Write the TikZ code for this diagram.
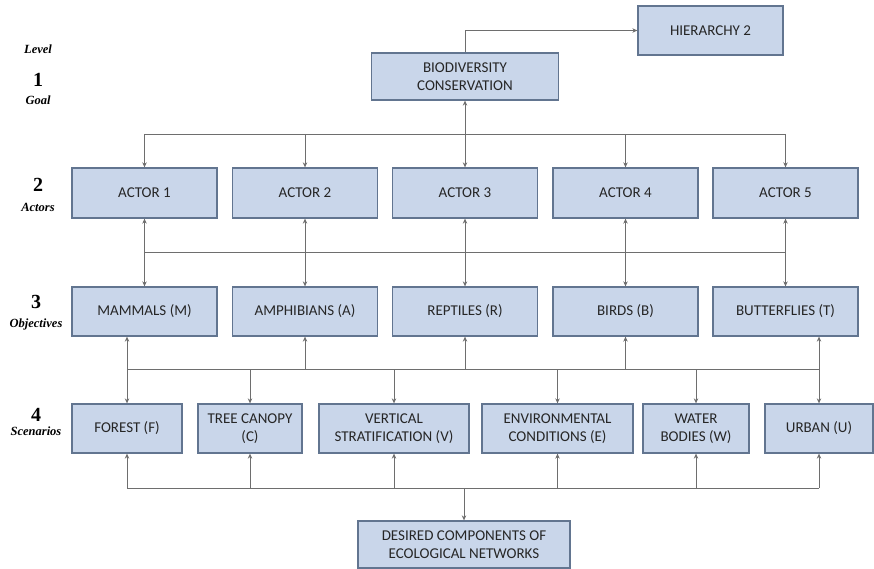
\documentclass[tikz,border=0pt]{standalone}
\usepackage{fontspec}
\setmainfont{Carlito}
\newfontfamily\lvlfont{Liberation Serif}
\usetikzlibrary{arrows.meta}
\definecolor{boxfill}{HTML}{C9D6EA}
\definecolor{boxline}{HTML}{627590}
\definecolor{wire}{HTML}{6E6E6E}
\definecolor{boxtext}{HTML}{262626}
\begin{document}
\begin{tikzpicture}[x=1pt,y=-1pt,
  box/.style={draw=boxline, line width=1.3pt, fill=boxfill, text=boxtext,
    inner sep=0pt, align=center, anchor=center,
    font=\fontsize{15}{18.5}\selectfont},
  wireline/.style={draw=wire, line width=0.9pt},
  arr/.style={wireline, -{Stealth[length=5pt,width=4.5pt]}},
  arrtwo/.style={wireline, {Stealth[length=5pt,width=4.5pt]}-{Stealth[length=5pt,width=4.5pt]}},
  lvl/.style={font=\lvlfont\fontsize{12.5}{14}\selectfont\bfseries\itshape, text=black},
  lvlnum/.style={font=\lvlfont\fontsize{20}{21}\selectfont\bfseries, text=black}]
\path[use as bounding box] (0,0) rectangle (874,569);

% level captions on the left
\node[lvl] (lvlhead) at (38,49) {Level};
\node[lvlnum] (n1) at (38,80) {1};
\node[lvl] (t1) at (38,100) {Goal};
\node[lvlnum] (n2) at (38,185) {2};
\node[lvl] (t2) at (38,207) {Actors};
\node[lvlnum] (n3) at (36,302) {3};
\node[lvl] (t3) at (36,324) {Objectives};
\node[lvlnum] (n4) at (36,415) {4};
\node[lvl] (t4) at (36,431) {Scenarios};

% goal and link to the next hierarchy
\node[box, minimum width=145pt, minimum height=49pt] (h2) at (710.5,30.5) {HIERARCHY 2};
\node[box, minimum width=187pt, minimum height=47pt] (bio) at (465,76.5) {BIODIVERSITY\\CONSERVATION};

% actors
\foreach \i/\x in {1/144.5,2/305,3/465,4/625.5,5/785.5}
  \node[box, minimum width=145pt, minimum height=50pt] (a\i) at (\x,193) {ACTOR \i};

% objectives
\node[box, minimum width=145pt, minimum height=49pt] (o1) at (144.5,311.5) {MAMMALS (M)};
\node[box, minimum width=145pt, minimum height=49pt] (o2) at (305,311.5) {AMPHIBIANS (A)};
\node[box, minimum width=145pt, minimum height=49pt] (o3) at (465,311.5) {REPTILES (R)};
\node[box, minimum width=145pt, minimum height=49pt] (o4) at (625.5,311.5) {BIRDS (B)};
\node[box, minimum width=145pt, minimum height=49pt] (o5) at (785.5,311.5) {BUTTERFLIES (T)};

% scenarios
\node[box, minimum width=110pt, minimum height=49pt] (sf) at (127,428.5) {FOREST (F)};
\node[box, minimum width=104pt, minimum height=49pt] (sc) at (250,428.5) {TREE CANOPY\\(C)};
\node[box, minimum width=150pt, minimum height=49pt] (sv) at (394,428.5) {VERTICAL\\STRATIFICATION (V)};
\node[box, minimum width=151pt, minimum height=49pt] (se) at (557.5,428.5) {ENVIRONMENTAL\\CONDITIONS (E)};
\node[box, minimum width=106pt, minimum height=49pt] (sw) at (696,428.5) {WATER\\BODIES (W)};
\node[box, minimum width=108pt, minimum height=49pt] (su) at (819,428.5) {URBAN (U)};

% desired outcome
\node[box, minimum width=212pt, minimum height=47pt] (des) at (464,544.5) {DESIRED COMPONENTS OF\\ECOLOGICAL NETWORKS};

% bus levels
\coordinate (busA) at (0,134);
\coordinate (busB) at (0,252);
\coordinate (busC) at (0,369);
\coordinate (busD) at (0,488);

% goal -> hierarchy 2
\draw[arr] (bio.north) |- (h2.west);

% goal <-> actors
\draw[wireline] (a1.north |- busA) -- (a5.north |- busA);
\foreach \i in {1,2,4,5}
  \draw[arr] (a\i.north |- busA) -- (a\i.north);
\draw[arrtwo] (bio.south) -- (a3.north);

% actors <-> objectives
\draw[wireline] (a1.south |- busB) -- (a5.south |- busB);
\foreach \i in {1,...,5}
  \draw[arrtwo] (a\i.south) -- (o\i.north);

% objectives <-> scenarios
\draw[wireline] (sf.north |- busC) -- (su.north |- busC);
\draw[arrtwo] (sf.north |- o1.south) -- (sf.north);
\draw[arrtwo] (su.north |- o5.south) -- (su.north);
\foreach \i in {2,3,4}
  \draw[arr] (o\i.south |- busC) -- (o\i.south);
\foreach \s in {sc,sv,se,sw}
  \draw[arr] (\s.north |- busC) -- (\s.north);

% scenarios <-> desired components
\draw[wireline] (sf.south |- busD) -- (su.south |- busD);
\foreach \s in {sf,sc,sv,se,sw,su}
  \draw[arr] (\s.south |- busD) -- (\s.south);
\draw[arr] (des.north |- busD) -- (des.north);
\end{tikzpicture}
\end{document}
